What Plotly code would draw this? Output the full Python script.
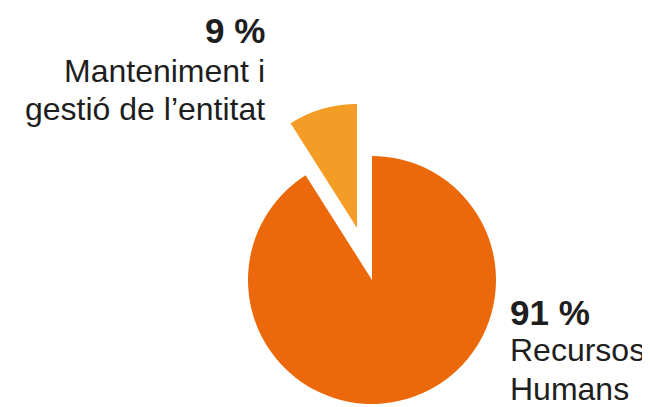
import plotly.graph_objects as go

# data (clockwise from 12 o'clock)
labels = ["Recursos Humans", "Manteniment i gestió de l’entitat"]
values = [91, 9]
colors = ["#EB690B", "#F39D26"]

# the page body has an 8px margin, so the figure is a bit smaller than the window
W, H = 642, 399
OFF = 8
R = 124  # pie radius in px


def domain(cx, cy):
    # square box of side 2R centred on screen point (cx, cy)
    cx -= OFF
    cy -= OFF
    return dict(x=[(cx - R) / W, (cx + R) / W],
                y=[1 - (cy + R) / H, 1 - (cy - R) / H])


fig = go.Figure()

# main slice
fig.add_trace(go.Pie(
    labels=labels, values=values, sort=False, direction="clockwise",
    rotation=0, textinfo="none", hoverinfo="label+percent",
    marker=dict(colors=[colors[0], "rgba(0,0,0,0)"], line=dict(width=0)),
    domain=domain(372, 280), showlegend=False,
))

# pulled-out small slice
fig.add_trace(go.Pie(
    labels=labels, values=values, sort=False, direction="clockwise",
    rotation=0, textinfo="none", hoverinfo="label+percent",
    marker=dict(colors=["rgba(0,0,0,0)", colors[1]], line=dict(width=0)),
    domain=domain(357, 228), showlegend=False,
))

txt = "#1e1e1e"


def note(text, x, y, anchor, bold=False):
    # x, y: screen px of text edge / glyph centre in the reference
    x = x - OFF + (2 if anchor == "right" else -2)
    y = y - OFF
    fig.add_annotation(
        text=f"<b>{text}</b>" if bold else text,
        x=x / W, y=1 - y / H, xref="paper", yref="paper",
        xanchor=anchor, yanchor="middle", showarrow=False,
        font=dict(family="Liberation Sans", size=35 if bold else 32, color=txt),
    )


note(f"{values[1]} %", 265, 30, "right", bold=True)
note("Manteniment i", 265, 71, "right")
note("gestió de l’entitat", 265, 109, "right")

note(f"{values[0]} %", 510, 312, "left", bold=True)
note("Recursos", 510, 350, "left")
note("Humans", 510, 389, "left")

fig.update_layout(
    width=W, height=H,
    margin=dict(l=0, r=0, t=0, b=0),
    paper_bgcolor="white", plot_bgcolor="white",
)

fig.write_html("out.html")
